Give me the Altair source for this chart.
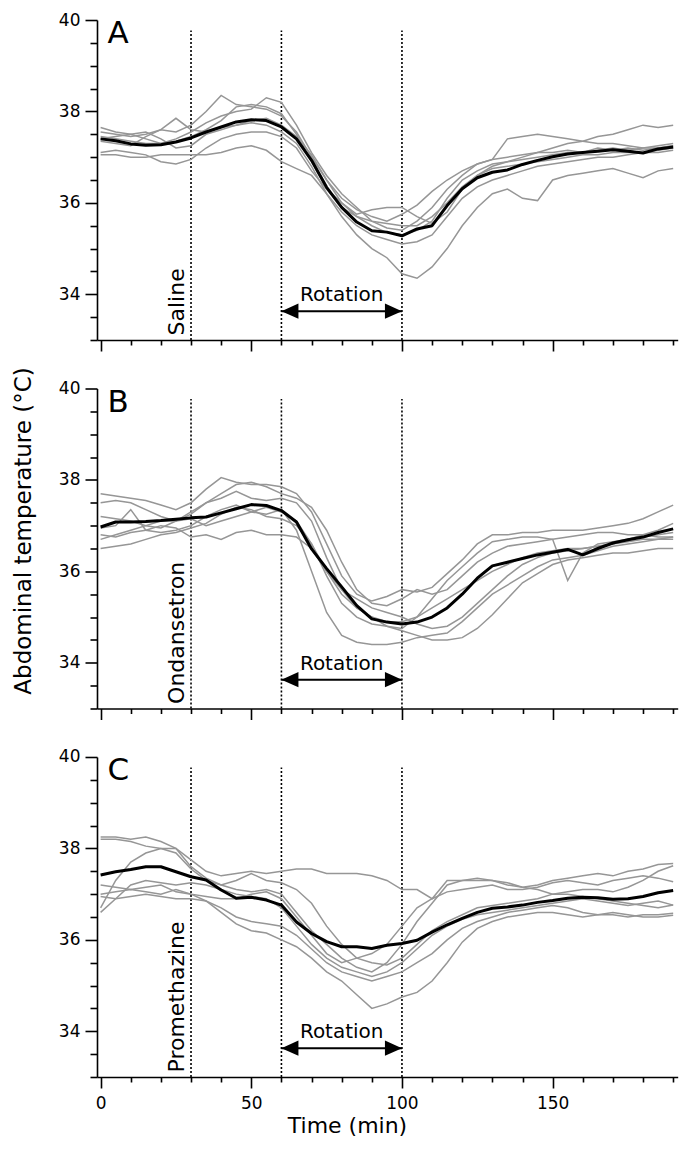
import altair as alt
import pandas as pd

# ---------------- data ----------------
time = list(range(0, 191, 5))

mean_A = [37.40, 37.36, 37.29, 37.26, 37.27, 37.33, 37.42, 37.55, 37.66, 37.77,
          37.82, 37.80, 37.66, 37.40, 36.93, 36.34, 35.90, 35.58, 35.39, 35.36,
          35.28, 35.43, 35.50, 35.94, 36.31, 36.55, 36.67, 36.72, 36.84, 36.93,
          37.01, 37.07, 37.10, 37.13, 37.16, 37.13, 37.09, 37.18, 37.22]
grey_A = [
    [37.55, 37.5, 37.45, 37.5, 37.6, 37.55, 37.7, 38.0, 38.35, 38.15,
     38.1, 38.05, 37.9, 37.55, 37.0, 36.5, 36.1, 35.85, 35.7, 35.6,
     35.75, 35.95, 36.25, 36.5, 36.7, 36.85, 36.95, 37.0, 37.05, 37.1,
     37.1, 37.15, 37.1, 37.15, 37.2, 37.15, 37.2, 37.25, 37.3],
    [37.45, 37.4, 37.35, 37.3, 37.3, 37.4, 37.55, 37.75, 37.9, 38.0,
     38.05, 38.3, 38.2, 37.7, 37.1, 36.6, 36.2, 35.9, 35.6, 35.45,
     35.4, 35.6, 35.9, 36.3, 36.6, 36.85, 36.95, 37.4, 37.45, 37.5,
     37.45, 37.4, 37.35, 37.3, 37.3, 37.25, 37.2, 37.2, 37.25],
    [37.65, 37.55, 37.5, 37.4, 37.3, 37.35, 37.45, 37.6, 37.8, 38.1,
     38.15, 38.1, 37.95, 37.5, 36.9, 36.3, 35.9, 35.7, 35.6, 35.55,
     35.5, 35.5, 35.7, 36.0, 36.35, 36.6, 36.8, 36.9, 37.0, 37.1,
     37.2, 37.3, 37.35, 37.45, 37.5, 37.6, 37.7, 37.65, 37.7],
    [37.05, 37.05, 37.0, 37.0, 37.05, 37.05, 37.05, 37.05, 37.1, 37.2,
     37.25, 37.15, 36.9, 36.75, 36.6, 36.2, 35.7, 35.3, 35.0, 34.8,
     34.45, 34.35, 34.6, 35.0, 35.5, 35.9, 36.2, 36.3, 36.1, 36.05,
     36.5, 36.6, 36.65, 36.7, 36.75, 36.65, 36.55, 36.7, 36.75],
    [37.4, 37.45, 37.5, 37.55, 37.4, 37.2, 37.25, 37.5, 37.6, 37.7,
     37.75, 37.7, 37.55, 37.3, 36.8, 36.2, 35.8, 35.5, 35.3, 35.2,
     35.1, 35.15, 35.3, 35.7, 36.1, 36.35, 36.5, 36.6, 36.7, 36.8,
     36.85, 36.9, 36.95, 37.0, 37.0, 37.05, 37.1, 37.1, 37.15],
    [37.1, 37.15, 37.1, 37.05, 36.9, 36.85, 36.95, 37.2, 37.4, 37.5,
     37.55, 37.55, 37.45, 37.2, 36.7, 36.3, 36.0, 35.7, 35.5, 35.35,
     35.3, 35.4, 35.6, 36.1, 36.5, 36.7, 36.85, 36.9, 36.95, 37.0,
     37.05, 37.1, 37.1, 37.2, 37.15, 37.2, 37.15, 37.2, 37.25],
    [37.35, 37.3, 37.25, 37.45, 37.6, 37.85, 37.6, 37.55, 37.65, 37.7,
     37.8, 37.85, 37.7, 37.45, 37.05, 36.5, 36.0, 35.75, 35.85, 35.9,
     35.9, 35.7, 35.55, 35.8, 36.3, 36.6, 36.75, 36.8, 36.85, 36.9,
     36.95, 37.0, 37.05, 37.05, 37.1, 37.1, 37.1, 37.15, 37.2],
]

mean_B = [36.97, 37.08, 37.08, 37.09, 37.11, 37.14, 37.17, 37.19, 37.28, 37.37,
          37.46, 37.44, 37.33, 37.08, 36.49, 36.06, 35.66, 35.25, 34.96, 34.89,
          34.85, 34.89, 35.0, 35.2, 35.5, 35.85, 36.12, 36.2, 36.28, 36.36,
          36.42, 36.48, 36.36, 36.5, 36.62, 36.69, 36.75, 36.85, 36.93]
grey_B = [
    [37.7, 37.65, 37.6, 37.55, 37.45, 37.35, 37.5, 37.8, 38.05, 37.95,
     37.9, 37.9, 37.85, 37.7, 37.3, 36.6, 35.9, 35.5, 35.35, 35.45,
     35.6, 35.55, 35.65, 35.95, 36.25, 36.6, 36.8, 36.8, 36.85, 36.85,
     36.9, 36.9, 36.9, 36.95, 37.0, 37.05, 37.15, 37.3, 37.45],
    [37.5, 37.55, 37.5, 37.35, 37.2, 37.1, 37.25, 37.5, 37.6, 37.75,
     37.6, 37.55, 37.6, 37.5, 37.1, 36.3, 35.6, 35.2, 35.0, 34.9,
     34.9, 35.0, 35.2, 35.4, 35.6, 35.8, 36.0, 36.15, 36.3, 36.4,
     36.45, 36.5, 36.5, 36.55, 36.6, 36.7, 36.8, 36.9, 37.05],
    [36.95, 37.0, 37.35, 36.9, 36.85, 36.9, 37.0, 37.2, 37.35, 37.45,
     37.3, 37.25, 37.35, 36.9, 36.0, 35.1, 34.6, 34.45, 34.4, 34.4,
     34.45, 34.55, 34.6, 34.65, 34.9, 35.2, 35.5, 35.7, 35.9, 36.1,
     36.25, 36.3, 36.35, 36.45, 36.55, 36.6, 36.65, 36.7, 36.75],
    [36.8, 36.75, 36.85, 36.9, 37.0, 36.95, 36.75, 36.8, 36.7, 36.85,
     36.9, 36.8, 36.8, 36.75, 36.5, 36.0, 35.5, 35.2, 35.0, 34.8,
     34.7, 34.6, 34.5, 34.5, 34.55, 34.75, 35.05, 35.4, 35.75, 35.95,
     36.15, 36.25, 36.3, 36.35, 36.4, 36.4, 36.45, 36.5, 36.5],
    [36.5, 36.55, 36.6, 36.7, 36.8, 36.85, 36.95, 37.05, 37.25, 37.4,
     37.35, 37.2, 37.15, 37.0, 36.6, 35.9, 35.3, 35.0, 34.85, 34.8,
     34.75, 35.0, 35.4, 35.8, 36.1, 36.4, 36.65, 36.7, 36.75, 36.75,
     36.7, 35.8, 36.4, 36.6, 36.65, 36.7, 36.75, 36.8, 36.85],
    [36.7, 36.8, 36.9, 37.0, 37.1, 37.1, 37.3, 37.5, 37.7, 37.9,
     37.95, 37.85, 37.7, 37.6, 37.4, 36.9, 36.2, 35.6, 35.3, 35.25,
     35.4, 35.6, 35.5, 35.6, 35.9, 36.2, 36.4, 36.55, 36.6, 36.65,
     36.7, 36.75, 36.8, 36.85, 36.85, 36.8, 36.8, 36.75, 36.75],
    [37.2, 37.15, 37.1, 37.0, 36.95, 37.1, 37.15, 37.0, 37.1, 37.2,
     37.3, 37.4, 37.3, 37.1, 36.6, 36.0, 35.6, 35.4, 35.2, 35.1,
     35.0, 34.85, 34.75, 34.8, 35.0, 35.3, 35.6, 35.9, 36.15, 36.3,
     36.4, 36.45, 36.5, 36.55, 36.6, 36.65, 36.7, 36.7, 36.7],
]

mean_C = [37.42, 37.49, 37.54, 37.6, 37.6, 37.49, 37.38, 37.31, 37.09, 36.91,
          36.93, 36.87, 36.76, 36.39, 36.14, 35.96, 35.85, 35.85, 35.81, 35.88,
          35.92, 35.99, 36.17, 36.33, 36.47, 36.6, 36.69, 36.72, 36.76, 36.82,
          36.86, 36.91, 36.93, 36.92, 36.89, 36.9, 36.95, 37.03, 37.08]
grey_C = [
    [38.25, 38.25, 38.2, 38.25, 38.15, 38.0, 37.75, 37.5, 37.4, 37.45,
     37.5, 37.45, 37.5, 37.55, 37.55, 37.45, 37.45, 37.45, 37.4, 37.3,
     37.1, 37.1, 36.9, 37.3, 37.3, 37.3, 37.3, 37.25, 37.15, 37.1,
     37.0, 37.0, 36.95, 36.9, 36.85, 36.8, 36.75, 36.7, 36.76],
    [38.2, 38.2, 38.15, 38.05, 38.0, 37.9, 37.55, 37.3, 37.2, 37.1,
     37.05, 37.1, 37.0, 36.6, 36.2, 35.9, 35.6, 35.4, 35.3, 35.5,
     35.9, 36.4, 36.8, 37.2, 37.3, 37.35, 37.3, 37.2, 37.15, 37.2,
     37.3, 37.35, 37.4, 37.45, 37.4, 37.5, 37.55, 37.65, 37.67],
    [36.7, 37.3, 37.7, 37.9, 38.0, 38.0, 37.6, 37.35, 37.2, 37.3,
     37.45, 37.3, 37.25, 37.1, 36.8, 36.3, 35.9, 35.6, 35.5, 35.45,
     35.6, 35.9, 36.2, 36.4, 36.55, 36.7, 36.75, 36.8, 36.85, 36.9,
     37.0, 37.05, 37.1, 37.1, 37.05, 37.15, 37.3, 37.5, 37.62],
    [37.2, 37.15, 37.1, 37.15, 37.2, 37.05, 37.0, 36.85, 36.6, 36.35,
     36.2, 36.15, 36.0, 35.85, 35.6, 35.3, 35.1, 34.8, 34.5, 34.6,
     34.75, 34.85, 35.1, 35.5, 35.95, 36.25, 36.4, 36.5, 36.55, 36.6,
     36.6, 36.55, 36.5, 36.55, 36.55, 36.5, 36.55, 36.55, 36.58],
    [37.0, 37.05, 37.1, 37.05, 37.0, 37.1, 37.0, 36.95, 36.9, 36.9,
     37.0, 37.05, 36.9, 36.5, 36.1, 35.7, 35.5, 35.6, 35.7, 35.9,
     36.3, 36.7, 36.9, 37.05, 37.1, 37.15, 37.2, 37.1, 37.1, 37.15,
     37.25, 37.3, 37.25, 37.2, 37.3, 37.35, 37.4, 37.35, 37.27],
    [36.95, 36.9, 36.95, 37.0, 36.95, 36.9, 36.9, 36.85, 36.7, 36.5,
     36.4, 36.35, 36.3, 36.1, 35.8, 35.5, 35.3, 35.2, 35.1, 35.2,
     35.3, 35.5, 35.7, 36.0, 36.25, 36.4, 36.5, 36.6, 36.65, 36.7,
     36.75, 36.7, 36.6, 36.55, 36.6, 36.55, 36.5, 36.5, 36.54],
    [36.6, 36.9, 37.2, 37.3, 37.25, 37.2, 37.25, 37.2, 37.1, 37.0,
     36.95, 36.9, 36.7, 36.3, 35.9, 35.6, 35.4, 35.3, 35.2, 35.3,
     35.5, 35.8, 36.1, 36.3, 36.45, 36.55, 36.6, 36.65, 36.7, 36.75,
     36.8, 36.85, 36.9, 36.85, 36.8, 36.75, 36.8, 36.85, 36.76],
]

panel_letters = ["A", "B", "C"]
drug_names = ["Saline", "Ondansetron", "Promethazine"]
event_times = [30, 60, 100]
rotation_start, rotation_end = 60, 100
rotation_label = "Rotation"
x_tick_values = [0, 50, 100, 150]
x_minor_values = [10, 20, 30, 40, 60, 70, 80, 90, 110, 120, 130, 140, 160, 170, 180, 190]
y_tick_values = [34, 36, 38, 40]
y_minor_values = [33, 33.5, 34.5, 35, 35.5, 36.5, 37, 37.5, 38.5, 39, 39.5]
x_title = "Time (min)"
y_title = "Abdominal temperature (°C)"

for s in [mean_A, mean_B, mean_C] + grey_A + grey_B + grey_C:
    assert len(s) == len(time)

# ---------------- chart ----------------
FONT = "DejaVu Sans"
XS = alt.Scale(domain=[-1.2, 191.5], nice=False, zero=False)
YS = alt.Scale(domain=[33, 40], nice=False, zero=False)
W, H = 580.7, 320


def X(f, **kw):
    return alt.X(f, type="quantitative", scale=XS, **kw)


def Y(f, **kw):
    return alt.Y(f, type="quantitative", scale=YS, **kw)


def panel(letter, drug, mean, greys, bottom, with_ytitle):
    g = pd.DataFrame([{"t": t, "T": v, "id": i}
                      for i, s in enumerate(greys) for t, v in zip(time, s)])
    m = pd.DataFrame({"t": time, "T": mean})

    xkw = dict(values=x_tick_values, orient="bottom", tickSize=11, tickWidth=1.6,
               domainWidth=1.6, labels=bottom, grid=False, labelPadding=8,
               labelFontSize=17)
    if bottom:
        xkw.update(title=x_title, titleX=250, titlePadding=4, titleFontSize=22)
    else:
        xkw.update(title=None)
    ykw = dict(values=y_tick_values, orient="left", tickSize=12, tickWidth=1.6,
               domainWidth=1.6, grid=False, labelPadding=5, labelFontSize=17)
    if with_ytitle:
        ykw.update(title=y_title, titleY=142, titlePadding=23, titleFontSize=23)
    else:
        ykw.update(title=None)

    x_minor = alt.Axis(values=x_minor_values, orient="bottom", tickSize=5,
                       tickWidth=1.6, labels=False, domain=False, grid=False,
                       title=None)
    y_minor = alt.Axis(values=y_minor_values, orient="left", tickSize=7,
                       tickWidth=1.6, labels=False, domain=False, grid=False,
                       title=None)

    ev = pd.DataFrame({"t": event_times, "y0": [33] * 3, "y1": [39.77] * 3})
    rules = alt.Chart(ev).mark_rule(color="black", strokeWidth=1.6,
                                    strokeDash=[2, 2]).encode(
        x=X("t", axis=None), y=Y("y0", axis=None), y2="y1")

    greys_l = alt.Chart(g).mark_line(color="#969696", strokeWidth=1.5).encode(
        x=X("t", axis=alt.Axis(**xkw)), y=Y("T", axis=alt.Axis(**ykw)),
        detail="id:N")
    mean_l = alt.Chart(m).mark_line(color="black", strokeWidth=3,
                                    strokeJoin="round").encode(
        x=X("t", axis=x_minor), y=Y("T", axis=y_minor))

    arr = pd.DataFrame({"t0": [rotation_start], "t1": [rotation_end], "T": [33.63],
                        "s": [rotation_label], "tm": [(rotation_start + rotation_end) / 2]})
    arrow_line = alt.Chart(arr).mark_rule(color="black", strokeWidth=2).encode(
        x=X("t0", axis=None), x2="t1", y=Y("T", axis=None))
    head_l = alt.Chart(arr).mark_point(
        shape="M 0 0 L 2 -0.9 L 2 0.9 Z", filled=True, size=289, color="black",
        opacity=1).encode(x=X("t0", axis=None), y=Y("T", axis=None))
    head_r = alt.Chart(arr).mark_point(
        shape="M 0 0 L -2 -0.9 L -2 0.9 Z", filled=True, size=289, color="black",
        opacity=1).encode(x=X("t1", axis=None), y=Y("T", axis=None))
    rot_text = alt.Chart(arr).mark_text(
        font=FONT, fontSize=20, align="center", baseline="alphabetic", dy=-10,
        color="black").encode(x=X("tm", axis=None), y=Y("T", axis=None), text="s:N")

    lt = pd.DataFrame({"t": [2.3], "T": [39.49], "s": [letter]})
    letter_text = alt.Chart(lt).mark_text(
        font=FONT, fontSize=31, align="left", baseline="alphabetic",
        color="black").encode(x=X("t", axis=None), y=Y("T", axis=None), text="s:N")

    dt = pd.DataFrame({"t": [event_times[0]], "T": [33.1], "s": [drug]})
    drug_text = alt.Chart(dt).mark_text(
        font=FONT, fontSize=22, align="left", baseline="alphabetic", angle=270,
        dy=-7, color="black").encode(x=X("t", axis=None), y=Y("T", axis=None),
                                     text="s:N")

    return alt.layer(rules, greys_l, mean_l, arrow_line, head_l, head_r,
                     rot_text, letter_text, drug_text).resolve_axis(
        x="independent", y="independent").properties(width=W, height=H)


pA = panel(panel_letters[0], drug_names[0], mean_A, grey_A, False, False)
pB = panel(panel_letters[1], drug_names[1], mean_B, grey_B, False, True)
pC = panel(panel_letters[2], drug_names[2], mean_C, grey_C, True, False)

chart = alt.vconcat(pA, pB, pC, spacing=48.5, bounds="flush").properties(
    padding={"left": 4, "top": 3, "right": 4, "bottom": 4}
).configure_view(stroke=None).configure_axis(
    labelFont=FONT, titleFont=FONT, titleFontWeight="normal",
    labelColor="black", titleColor="black", domainColor="black",
    tickColor="black"
)

chart.save("out.html", embed_options={"renderer": "svg", "actions": False})
